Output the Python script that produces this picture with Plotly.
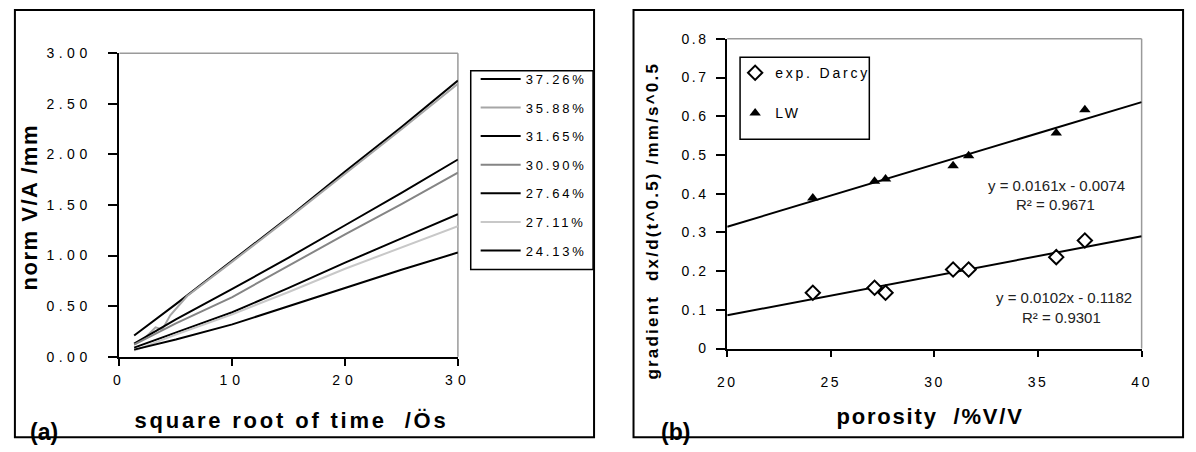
import plotly.graph_objects as go

# ---------------- data: panel (a) ----------------
series_names = ["37.26%", "35.88%", "31.65%", "30.90%", "27.64%", "27.11%", "24.13%"]
sqrt_time = [1.3, 5, 10, 15, 20, 25, 30]
sqrt_time_3588 = [1.3, 2.3, 3.2, 3.8, 4.5, 6, 10, 15, 20, 25, 30]
va_3726 = [0.21, 0.52, 0.95, 1.38, 1.83, 2.27, 2.73]
va_3588 = [0.12, 0.19, 0.29, 0.27, 0.41, 0.60, 0.94, 1.37, 1.81, 2.25, 2.70]
va_3165 = [0.13, 0.37, 0.67, 0.98, 1.30, 1.62, 1.95]
va_3090 = [0.12, 0.33, 0.59, 0.90, 1.21, 1.51, 1.82]
va_2764 = [0.09, 0.24, 0.44, 0.68, 0.93, 1.17, 1.41]
va_2711 = [0.06, 0.22, 0.42, 0.64, 0.87, 1.08, 1.29]
va_2413 = [0.07, 0.17, 0.32, 0.50, 0.68, 0.86, 1.03]
a_xticks = [0, 10, 20, 30]
a_yticks = [0, 0.5, 1.0, 1.5, 2.0, 2.5, 3.0]

# ---------------- data: panel (b) ----------------
porosity = [24.13, 27.11, 27.64, 30.90, 31.65, 35.88, 37.26]
darcy_grad = [0.144, 0.157, 0.144, 0.204, 0.204, 0.236, 0.279]
lw_grad = [0.389, 0.432, 0.438, 0.472, 0.498, 0.557, 0.617]
trend_x = [20, 40]
lw_trend = [0.3146, 0.6366]
darcy_trend = [0.0858, 0.2898]
b_xticks = [20, 25, 30, 35, 40]

W, H = 1196, 452
FONT = "Liberation Sans, Arial, sans-serif"


def px(x):
    return x / W


def py(y):
    return 1 - y / H


fig = go.Figure()

a_series = [
    ("37.26%", sqrt_time, va_3726, "#000000"),
    ("35.88%", sqrt_time_3588, va_3588, "#a6a6a6"),
    ("31.65%", sqrt_time, va_3165, "#000000"),
    ("30.90%", sqrt_time, va_3090, "#858585"),
    ("27.64%", sqrt_time, va_2764, "#000000"),
    ("27.11%", sqrt_time, va_2711, "#c8c8c8"),
    ("24.13%", sqrt_time, va_2413, "#000000"),
]
for name, xs, ys, col in a_series:
    fig.add_trace(go.Scatter(
        x=xs, y=ys, mode="lines", name=name, legendgroup=name,
        line=dict(color=col, width=2), xaxis="x", yaxis="y", legend="legend",
    ))

fig.add_trace(go.Scatter(x=trend_x, y=lw_trend, mode="lines", showlegend=False,
                         line=dict(color="black", width=2), xaxis="x2", yaxis="y2"))
fig.add_trace(go.Scatter(x=trend_x, y=darcy_trend, mode="lines", showlegend=False,
                         line=dict(color="black", width=2), xaxis="x2", yaxis="y2"))
fig.add_trace(go.Scatter(
    x=porosity, y=darcy_grad, mode="markers", name="exp. Darcy", legendgroup="d",
    marker=dict(symbol="diamond", size=11, color="white", line=dict(color="black", width=2)),
    xaxis="x2", yaxis="y2", legend="legend2"))
fig.add_trace(go.Scatter(
    x=porosity, y=lw_grad, mode="markers", name="LW", legendgroup="l",
    marker=dict(symbol="triangle-up", size=10, color="black", line=dict(width=0)),
    xaxis="x2", yaxis="y2", legend="legend2"))

axis_common = dict(showgrid=False, zeroline=False, showline=True, linecolor="black",
                   ticks="outside", tickcolor="black", fixedrange=True)

fig.update_layout(
    width=W, height=H,
    margin=dict(l=0, r=0, t=0, b=0),
    paper_bgcolor="white", plot_bgcolor="white",
    font=dict(family=FONT, color="black"),
    xaxis=dict(domain=[px(113), px(456)], range=[0, 30], tickvals=a_xticks,
               linewidth=2, tickwidth=2, ticklen=7, ticklabelstandoff=2,
               tickfont=dict(size=14), anchor="y", **axis_common),
    yaxis=dict(domain=[py(361.5), py(47)], range=[0, 3], tickvals=a_yticks, tickformat=".2f",
               linewidth=2, tickwidth=2, ticklen=9, ticklabelstandoff=14,
               tickfont=dict(size=14), anchor="x", **axis_common),
    xaxis2=dict(domain=[px(729), px(1149)], range=[20, 40], tickvals=b_xticks,
                linewidth=2, tickwidth=2, ticklen=6, ticklabelstandoff=14,
                tickfont=dict(size=14), anchor="y2", **axis_common),
    yaxis2=dict(domain=[py(353), py(32)], range=[0, 0.8], dtick=0.1,
                linewidth=2, tickwidth=2, ticklen=9, ticklabelstandoff=5,
                tickfont=dict(size=14), anchor="x2", **axis_common),
    legend=dict(x=px(474), y=py(58), xanchor="left", yanchor="top", itemwidth=40,
                bgcolor="rgba(0,0,0,0)", borderwidth=0, tracegroupgap=8.7,
                font=dict(size=13, family=FONT)),
    legend2=dict(x=px(737), y=py(51), xanchor="left", yanchor="top",
                 bgcolor="rgba(0,0,0,0)", borderwidth=0, tracegroupgap=19,
                 font=dict(size=14, family=FONT)),
    showlegend=True,
)

shapes = [
    # panel frames
    dict(type="rect", xref="paper", yref="paper", x0=px(7), x1=px(594), y0=py(445), y1=py(2),
         line=dict(color="black", width=2)),
    dict(type="rect", xref="paper", yref="paper", x0=px(634), x1=px(1191), y0=py(445), y1=py(2),
         line=dict(color="black", width=2)),
    # legend boxes
    dict(type="rect", xref="paper", yref="paper", x0=px(469), x1=px(593), y0=py(271), y1=py(65),
         line=dict(color="black", width=1.5)),
    dict(type="rect", xref="paper", yref="paper", x0=px(742), x1=px(873), y0=py(136), y1=py(51),
         line=dict(color="black", width=1.5)),
]
for xr, yr in (("x domain", "y domain"), ("x2 domain", "y2 domain")):
    shapes.append(dict(type="line", xref=xr, yref=yr, x0=0, x1=1, y0=1, y1=1,
                       line=dict(color="#9a9a9a", width=1.5), layer="below"))
    shapes.append(dict(type="line", xref=xr, yref=yr, x0=1, x1=1, y0=0, y1=1,
                       line=dict(color="#9a9a9a", width=1.5), layer="below"))
fig.update_layout(shapes=shapes)

ann = []


def add_text(text, x, y, size, bold=False, angle=0, color="black"):
    ann.append(dict(text=text, xref="paper", yref="paper", x=px(x), y=py(y),
                    xanchor="center", yanchor="middle", showarrow=False, textangle=angle,
                    font=dict(size=size, family=FONT, color=color,
                              weight="bold" if bold else "normal")))


add_text("norm V/A /mm", 22, 207, 22, bold=True, angle=-90)
add_text("square root of time  /Ös", 287, 428, 22, bold=True)
add_text("(a)", 36, 440, 23, bold=True)
add_text("gradient  dx/d(t^0.5) /mm/s^0.5", 653, 221, 17, bold=True, angle=-90)
add_text("porosity  /%V/V", 934, 424, 22, bold=True)
add_text("(b)", 677, 440, 23, bold=True)
add_text("y = 0.0161x - 0.0074", 1063, 184, 15, color="#222222")
add_text("R² = 0.9671", 1062, 204, 15, color="#222222")
add_text("y = 0.0102x - 0.1182", 1070, 300, 15, color="#222222")
add_text("R² = 0.9301", 1068, 321, 15, color="#222222")
fig.update_layout(annotations=ann)

css_script = """
var css = '.xtick text{letter-spacing:5px}'
 + '.ytick text{letter-spacing:4.5px}'
 + '.x2tick text,.y2tick text{letter-spacing:2.5px}'
 + 'g.scrollbox{clip-path:none !important}'
 + '.legendtext,.legend2text{letter-spacing:2.8px !important}'
 + 'text.annotation-text[data-unformatted^="norm"]{letter-spacing:1.5px}'
 + 'text.annotation-text[data-unformatted^="square"]{letter-spacing:2.8px}'
 + 'text.annotation-text[data-unformatted^="gradient"]{letter-spacing:2.2px}'
 + 'text.annotation-text[data-unformatted^="porosity"]{letter-spacing:1.8px}';
var st = document.createElement('style');
st.textContent = css;
document.head.appendChild(st);
"""

fig.write_html("out.html", post_script=css_script)
